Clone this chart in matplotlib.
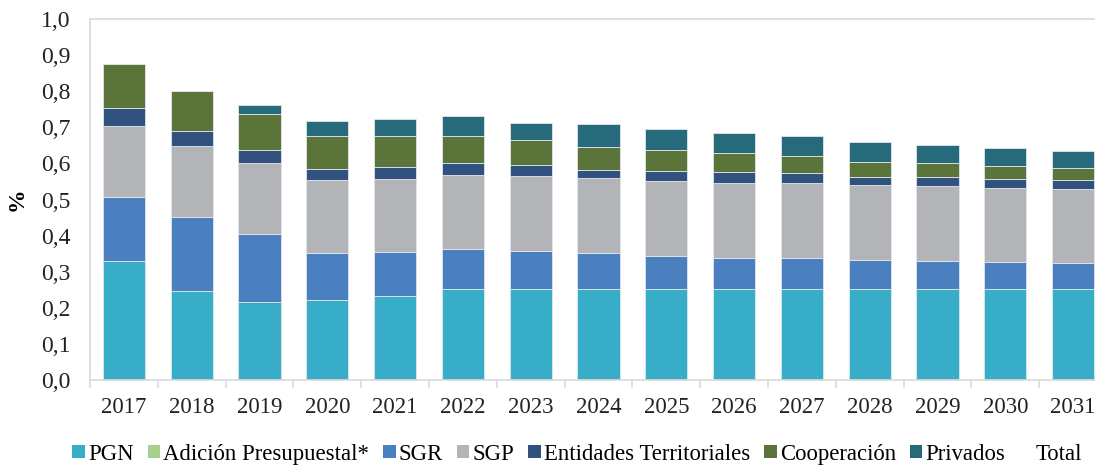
import matplotlib
matplotlib.use("Agg")
import matplotlib.pyplot as plt
from matplotlib.patches import Patch
from matplotlib.lines import Line2D
from matplotlib.ticker import FuncFormatter, FixedLocator
import numpy as np

years = ["2017", "2018", "2019", "2020", "2021", "2022", "2023", "2024",
         "2025", "2026", "2027", "2028", "2029", "2030", "2031"]

pgn = [0.331, 0.247, 0.217, 0.221, 0.234, 0.253, 0.253, 0.253,
       0.253, 0.253, 0.253, 0.253, 0.253, 0.253, 0.253]
adicion = [0.0] * 15
sgr = [0.175, 0.204, 0.187, 0.130, 0.121, 0.110, 0.103, 0.099,
       0.090, 0.085, 0.085, 0.079, 0.077, 0.074, 0.071]
sgp = [0.197, 0.198, 0.197, 0.202, 0.203, 0.206, 0.208, 0.207,
       0.208, 0.208, 0.207, 0.209, 0.208, 0.206, 0.206]
entidades = [0.051, 0.042, 0.036, 0.032, 0.032, 0.032, 0.032, 0.024,
             0.029, 0.029, 0.028, 0.022, 0.025, 0.025, 0.025]
cooperacion = [0.120, 0.110, 0.101, 0.092, 0.085, 0.076, 0.068, 0.063,
               0.057, 0.053, 0.047, 0.042, 0.038, 0.036, 0.031]
privados = [0.0, 0.0, 0.025, 0.040, 0.047, 0.053, 0.049, 0.062,
            0.059, 0.055, 0.055, 0.053, 0.051, 0.048, 0.048]

series = [
    ("PGN", pgn, "#37adc8"),
    ("Adición Presupuestal*", adicion, "#a8d08d"),
    ("SGR", sgr, "#4a7fc0"),
    ("SGP", sgp, "#b3b4b8"),
    ("Entidades Territoriales", entidades, "#31527e"),
    ("Cooperación", cooperacion, "#5b7439"),
    ("Privados", privados, "#276a7c"),
]

serif = ["Liberation Serif", "DejaVu Serif"]
plt.rcParams["font.family"] = serif

fig = plt.figure(figsize=(10.95, 4.65), dpi=100)
ax = fig.add_axes([90 / 1095, 1 - 380 / 465, 1017 / 1095, 361 / 465])

x = np.arange(len(years))
bottom = np.zeros(len(years))
for name, vals, color in series:
    v = np.array(vals)
    ax.bar(x, v, width=0.625, bottom=bottom, color=color,
           edgecolor="#dfe6ec", linewidth=0.6, zorder=2)
    bottom += v

ax.set_xlim(-0.5, len(years) - 0.5)
ax.set_ylim(0, 1.0)
ax.set_yticks(np.arange(0, 1.01, 0.1))
ax.yaxis.set_major_formatter(FuncFormatter(lambda v, p: f"{v:.1f}".replace(".", ",")))
ax.set_xticks(x)
ax.set_xticklabels(years)
ax.xaxis.set_minor_locator(FixedLocator(np.arange(-0.5, len(years), 1.0)))

for s in ax.spines.values():
    s.set_color("#d9d9d9")
    s.set_linewidth(1.2)

ax.tick_params(axis="y", length=0, labelsize=17, pad=14, colors="#222222")
ax.tick_params(axis="x", which="major", length=0, labelsize=16.5, pad=12,
               colors="#222222")
ax.tick_params(axis="x", which="minor", length=6, color="#d9d9d9", width=1.2)

ax.set_ylabel("%", fontsize=17, fontweight="bold", labelpad=10)

handles = [Patch(facecolor=c, edgecolor="none") for _, _, c in series]
labels = [n for n, _, _ in series]
handles.append(Line2D([], [], color="none"))
labels.append("Total")
fig.legend(handles, labels, loc="center", bbox_to_anchor=(0.527, 1 - 454 / 465),
           ncol=8, frameon=False, fontsize=16.4, handlelength=0.55,
           handleheight=0.55, handletextpad=0.15, columnspacing=0.6)

fig.savefig("out.png", dpi=100)
